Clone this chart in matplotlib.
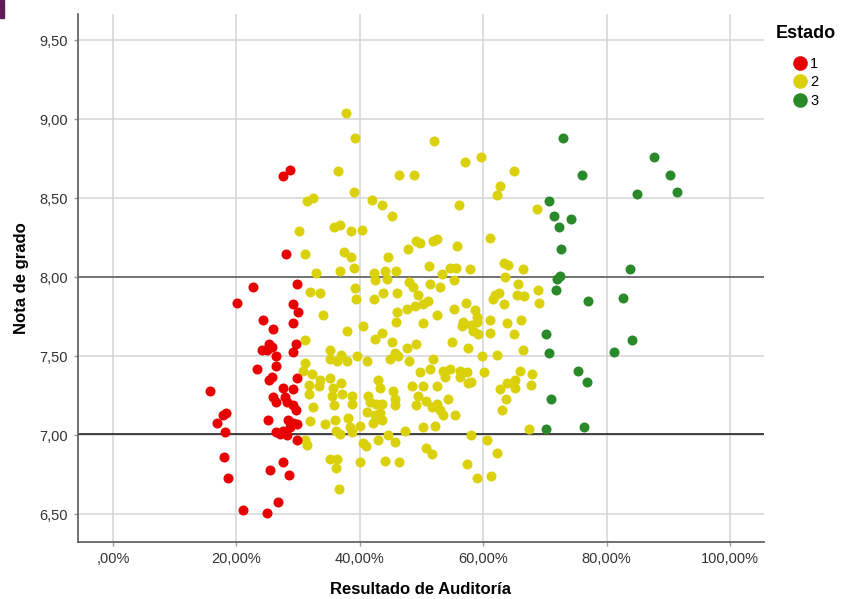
import matplotlib
matplotlib.use("Agg")
import matplotlib.pyplot as plt
from matplotlib.lines import Line2D
from matplotlib.patches import Rectangle
from matplotlib.ticker import FuncFormatter

plt.rcParams["font.family"] = ["Liberation Sans", "DejaVu Sans"]

# Estado 1 (rojo)
red_x = [22.7, 20.1, 29.8, 29.2, 30.0, 24.3, 29.2, 25.9, 25.3, 25.7,
         24.1, 25.0, 29.7, 29.2, 26.5, 26.5, 23.3, 25.3, 25.7, 29.8,
         15.7, 27.5, 29.2, 25.9, 26.4, 27.9, 28.2, 29.2, 29.7, 18.4,
         17.8, 16.8, 25.2, 28.4, 29.2, 29.9, 28.7, 18.2, 26.4, 27.5,
         28.2, 27.1, 29.8, 18.0, 27.5, 25.5, 28.5, 18.7, 26.8, 21.0,
         25.0, 28.7, 27.6, 28.0]
red_y = [7.94, 7.84, 7.96, 7.83, 7.78, 7.73, 7.71, 7.67, 7.58, 7.56,
         7.54, 7.54, 7.58, 7.53, 7.50, 7.44, 7.42, 7.35, 7.37, 7.36,
         7.28, 7.30, 7.29, 7.24, 7.21, 7.24, 7.21, 7.19, 7.16, 7.14,
         7.13, 7.08, 7.10, 7.10, 7.08, 7.07, 7.05, 7.02, 7.02, 7.03,
         7.00, 7.01, 6.97, 6.86, 6.83, 6.78, 6.75, 6.73, 6.58, 6.53,
         6.51, 8.68, 8.64, 8.15]

# Estado 2 (amarillo)
yellow_x = [37.8, 39.3, 52.1, 57.1, 59.6, 36.4, 46.3, 48.8, 39.1, 31.5,
            32.4, 41.9, 43.6, 56.1, 45.2, 30.1, 35.8, 36.8, 38.6, 40.4,
            47.8, 49.1, 49.8, 51.9, 52.5, 55.7, 31.2, 37.5, 38.6, 44.5,
            51.2, 39.1, 32.9, 36.8, 42.3, 44.1, 45.8, 53.4, 54.6, 55.6,
            57.8, 42.5, 44.4, 47.9, 48.6, 51.4, 53.0, 55.2, 31.9, 33.6,
            39.2, 39.4, 42.3, 43.8, 46.0, 49.5, 47.6, 49.0, 50.3, 51.1,
            46.1, 45.8, 34.0, 52.5, 55.2, 57.2, 58.7, 59.0, 56.8, 56.5,
            58.4, 50.3, 40.6, 37.9, 31.1, 35.2, 43.6, 42.5, 45.2, 47.7,
            49.1, 54.9, 57.6, 45.7, 44.9, 46.2, 36.9, 35.2, 36.3, 37.9,
            39.5, 41.2, 47.9, 51.9, 30.8, 32.2, 33.6, 35.2, 36.9, 35.7,
            33.4, 31.7, 31.7, 43.0, 43.3, 45.4, 45.7, 49.8, 51.3, 53.5,
            54.6, 56.2, 57.3, 56.2, 57.6, 48.4, 50.3, 52.5, 54.3, 41.4,
            41.7, 42.7, 35.5, 37.1, 38.7, 38.7, 32.5, 49.5, 50.8, 52.5,
            31.1, 31.9, 34.4, 35.8, 36.0, 36.1, 38.1, 38.4, 38.7, 36.8,
            40.0, 41.2, 42.5, 43.2, 43.6, 42.2, 49.1, 53.0, 53.5, 55.4,
            50.3, 52.2, 47.3, 44.6, 31.1, 31.5, 40.5, 41.0, 43.0, 45.7,
            50.7, 51.7, 58.1, 60.6, 62.2, 35.2, 36.3, 36.1, 40.0, 44.1,
            46.4, 57.3, 59.0, 61.2, 36.6, 65.0, 62.8, 62.3, 68.8, 61.1,
            63.3, 64.1, 66.4, 63.5, 65.7, 68.9, 61.9, 62.5, 65.4, 66.6,
            63.3, 69.0, 61.6, 61.1, 63.9, 66.1, 61.1, 65.0, 59.8, 62.3,
            66.4, 60.2, 65.9, 67.9, 67.8, 63.8, 65.2, 65.2, 62.8, 63.7,
            63.1, 67.4, 59.0, 58.1, 59.2, 58.0, 53.8, 45.7, 43.6, 51.7]
yellow_y = [9.04, 8.88, 8.86, 8.73, 8.76, 8.67, 8.65, 8.65, 8.54, 8.48,
            8.50, 8.49, 8.46, 8.46, 8.39, 8.29, 8.32, 8.33, 8.29, 8.30,
            8.18, 8.23, 8.22, 8.23, 8.24, 8.20, 8.15, 8.16, 8.13, 8.13,
            8.07, 8.06, 8.03, 8.04, 8.03, 8.04, 8.04, 8.02, 8.06, 8.06,
            8.05, 7.98, 7.99, 7.97, 7.94, 7.96, 7.94, 7.98, 7.91, 7.90,
            7.93, 7.86, 7.86, 7.90, 7.90, 7.89, 7.80, 7.82, 7.83, 7.85,
            7.78, 7.72, 7.76, 7.76, 7.80, 7.84, 7.79, 7.75, 7.72, 7.69,
            7.66, 7.71, 7.69, 7.66, 7.60, 7.54, 7.65, 7.61, 7.59, 7.55,
            7.58, 7.59, 7.55, 7.52, 7.48, 7.50, 7.51, 7.48, 7.47, 7.47,
            7.50, 7.47, 7.47, 7.48, 7.41, 7.39, 7.35, 7.36, 7.33, 7.30,
            7.31, 7.32, 7.26, 7.35, 7.30, 7.28, 7.23, 7.40, 7.42, 7.41,
            7.42, 7.41, 7.40, 7.37, 7.33, 7.31, 7.31, 7.31, 7.23, 7.25,
            7.21, 7.20, 7.25, 7.26, 7.25, 7.20, 7.18, 7.25, 7.22, 7.20,
            7.46, 7.09, 7.07, 7.19, 7.10, 7.03, 7.11, 7.05, 7.02, 7.01,
            7.06, 7.15, 7.13, 7.14, 7.10, 7.08, 7.19, 7.16, 7.13, 7.13,
            7.05, 7.06, 7.03, 7.00, 6.97, 6.94, 6.95, 6.93, 6.97, 6.96,
            6.92, 6.88, 7.00, 6.97, 6.89, 6.85, 6.85, 6.79, 6.83, 6.84,
            6.83, 6.82, 6.73, 6.74, 6.66, 8.67, 8.58, 8.52, 8.43, 8.25,
            8.09, 8.08, 8.05, 8.00, 7.96, 7.92, 7.89, 7.90, 7.89, 7.88,
            7.83, 7.84, 7.86, 7.73, 7.71, 7.73, 7.65, 7.64, 7.50, 7.51,
            7.54, 7.40, 7.41, 7.39, 7.32, 7.33, 7.35, 7.30, 7.29, 7.23,
            7.16, 7.04, 7.72, 7.70, 7.64, 7.34, 7.37, 7.19, 7.20, 7.18]

# Estado 3 (verde)
green_x = [73.0, 76.0, 87.7, 90.3, 84.9, 91.4, 70.6, 71.5, 74.2, 72.3,
           72.6, 72.5, 72.0, 71.8, 83.8, 77.0, 82.6, 70.2, 70.6, 84.1,
           81.2, 75.3, 76.9, 71.0, 70.2, 76.4]
green_y = [8.88, 8.65, 8.76, 8.65, 8.53, 8.54, 8.48, 8.39, 8.37, 8.32,
           8.18, 8.01, 7.99, 7.92, 8.05, 7.85, 7.87, 7.64, 7.52, 7.60,
           7.53, 7.41, 7.34, 7.23, 7.04, 7.05]

x_ticks = [0, 20, 40, 60, 80, 100]
y_ticks = [6.5, 7.0, 7.5, 8.0, 8.5, 9.0, 9.5]
ref_lines = [8.0, 7.01]
estados = ["1", "2", "3"]

COLORS = {"1": "#e80000", "2": "#dad10a", "3": "#2a8a2a"}


def pct_fmt(v, pos):
    s = f"{v:.2f}".replace(".", ",")
    if s.startswith("0,"):
        s = s[1:]
    return s + "%"


def num_fmt(v, pos):
    return f"{v:.2f}".replace(".", ",")


fig = plt.figure(figsize=(8.41, 5.99), dpi=100)
ax = fig.add_axes([0.0927, 0.0952, 0.8157, 0.8814])

ax.set_xlim(-5.67, 105.5)
ax.set_ylim(6.325, 9.666)
ax.set_xticks(x_ticks)
ax.set_yticks(y_ticks)
ax.xaxis.set_major_formatter(FuncFormatter(pct_fmt))
ax.yaxis.set_major_formatter(FuncFormatter(num_fmt))
ax.grid(True, color="#d4d4d4", linewidth=1.1, zorder=0)
ax.set_axisbelow(True)

for sp in ["top", "right"]:
    ax.spines[sp].set_visible(False)
for sp in ["left", "bottom"]:
    ax.spines[sp].set_color("#666666")
    ax.spines[sp].set_linewidth(1.3)
ax.tick_params(length=3, width=1, color="#9a9a9a", labelsize=10.5,
               labelcolor="#333333", pad=4)

for yv, c in zip(ref_lines, ["#555555", "#111111"]):
    ax.axhline(yv, color=c, linewidth=1.1, zorder=1)

ax.scatter(yellow_x, yellow_y, s=52, color=COLORS["2"], linewidths=0, zorder=3)
ax.scatter(red_x, red_y, s=52, color=COLORS["1"], linewidths=0, zorder=3)
ax.scatter(green_x, green_y, s=52, color=COLORS["3"], linewidths=0, zorder=3)

ax.set_xlabel("Resultado de Auditoría", fontsize=12, fontweight="bold", labelpad=12)
ax.set_ylabel("Nota de grado", fontsize=12, fontweight="bold", labelpad=8)

# legend: title as its own text so the gap to the entries can match
fig.text(806 / 841, 1 - 33 / 599, "Estado", fontsize=13, fontweight="bold",
         ha="center", va="center")
handles = [Line2D([], [], marker="o", linestyle="none", markersize=10.5,
                  markerfacecolor=COLORS[k], markeredgewidth=0, label=k)
           for k in estados]
fig.legend(handles=handles, loc="upper left",
           bbox_to_anchor=(794 / 841, 1 - 57 / 599), frameon=False,
           fontsize=10.5, handlelength=0.8, handletextpad=0.3,
           labelspacing=0.3, borderpad=0, borderaxespad=0)

fig.patches.append(Rectangle((0, 0.97), 0.005, 0.03, transform=fig.transFigure,
                             color="#5e1b55", zorder=5))

fig.savefig("out.png", dpi=100)
